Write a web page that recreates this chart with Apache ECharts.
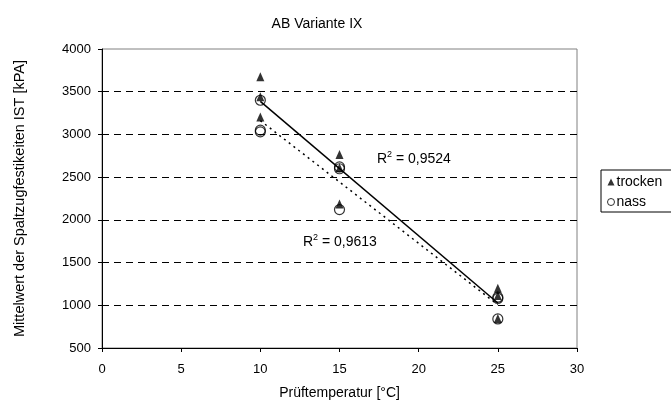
<!DOCTYPE html>
<html>
<head>
<meta charset="utf-8">
<script src="https://cdn.jsdelivr.net/npm/echarts@6/dist/echarts.min.js"></script>
<style>
html,body{margin:0;padding:0;background:#fff;}
#chart{width:671px;height:401px;}
</style>
</head>
<body>
<div id="chart"></div>
<script>
// Data
var trockenX = [10, 10, 10, 15, 15, 15, 25, 25, 25];
var trockenY = [3675, 3440, 3205, 2766, 2610, 2185, 1200, 1115, 845];
var nassX = [10, 10, 10, 15, 15, 15, 25, 25, 25];
var nassY = [3400, 3050, 3030, 2620, 2598, 2120, 1095, 1080, 840];
var xTicks = [0, 5, 10, 15, 20, 25, 30];
var yTicks = [500, 1000, 1500, 2000, 2500, 3000, 3500, 4000];
var r2Labels = ['0,9524', '0,9613'];

function pairs(xs, ys) { return xs.map(function (x, i) { return [x, ys[i]]; }); }
function fit(xs, ys) {
  var n = xs.length, mx = 0, my = 0;
  for (var i = 0; i < n; i++) { mx += xs[i]; my += ys[i]; }
  mx /= n; my /= n;
  var sxx = 0, sxy = 0;
  for (var j = 0; j < n; j++) { sxx += (xs[j] - mx) * (xs[j] - mx); sxy += (xs[j] - mx) * (ys[j] - my); }
  var b = sxy / sxx, a = my - b * mx;
  var x0 = Math.min.apply(null, xs), x1 = Math.max.apply(null, xs);
  return [[x0, a + b * x0], [x1, a + b * x1]];
}

var chart = echarts.init(document.getElementById('chart'), null, {renderer: 'canvas'});
var font = 'Liberation Sans, Arial, sans-serif';
var richR2 = {
  t: {fontSize: 14, fontFamily: font, fill: '#000', verticalAlign: 'bottom'},
  s: {fontSize: 9, fontFamily: font, fill: '#000', verticalAlign: 'top', padding: [0, 0, 7, 0]}
};
chart.setOption({
  animation: false,
  textStyle: {fontFamily: font},
  title: {
    text: 'AB Variante IX', left: 312, top: 12, textAlign: 'center',
    textStyle: {fontSize: 14, fontWeight: 'normal', color: '#000', fontFamily: font}
  },
  grid: {left: 102, right: 94, top: 49, bottom: 53, show: true, borderColor: '#808080', borderWidth: 1,
    backgroundColor: 'transparent', containLabel: false, outerBoundsMode: 'none'},
  legend: {
    orient: 'vertical', left: 601, top: 170,
    padding: [5, 10, 3, 6], itemGap: 6, itemWidth: 7, itemHeight: 7,
    borderColor: '#000', borderWidth: 1, backgroundColor: '#fff', borderRadius: 0,
    textStyle: {fontSize: 14, color: '#000', fontFamily: font, padding: [0, 0, 0, -3]},
    data: [
      {name: 'trocken', icon: 'triangle', itemStyle: {color: '#000', borderWidth: 0}},
      {name: 'nass', icon: 'circle', itemStyle: {color: '#fff', borderColor: '#000', borderWidth: 1}}
    ]
  },
  xAxis: {
    type: 'value', min: 0, max: 30, interval: 5,
    name: 'Prüftemperatur [°C]', nameLocation: 'middle', nameGap: 38,
    nameTextStyle: {fontSize: 14, color: '#000', fontFamily: font},
    axisLine: {show: true, onZero: false, lineStyle: {color: '#000', width: 1}},
    axisTick: {show: true, length: 4, lineStyle: {color: '#000'}},
    axisLabel: {color: '#000', fontSize: 13, margin: 15, fontFamily: font,
      formatter: function (v) { return xTicks.indexOf(v) >= 0 ? String(v) : ''; }},
    splitLine: {show: false}
  },
  yAxis: {
    type: 'value', min: 500, max: 4000, interval: 500,
    name: 'Mittelwert der Spaltzugfestikeiten IST [kPA]', nameLocation: 'middle', nameGap: 75,
    nameTextStyle: {fontSize: 14.5, color: '#000', fontFamily: font},
    axisLine: {show: true, onZero: false, lineStyle: {color: '#000', width: 1}},
    axisTick: {show: true, length: 4, lineStyle: {color: '#000'}},
    axisLabel: {color: '#000', fontSize: 13, margin: 11, fontFamily: font,
      formatter: function (v) { return yTicks.indexOf(v) >= 0 ? String(v) : ''; }},
    splitLine: {show: true, showMinLine: false, showMaxLine: false, lineStyle: {color: '#000', width: 1, type: [7, 5]}}
  },
  series: [
    {
      name: 'nass-trend', type: 'line', data: fit(nassX, nassY), symbol: 'none', z: 3,
      lineStyle: {color: '#000', width: 1.5, type: [2, 4]}, silent: true
    },
    {
      name: 'trocken-trend', type: 'line', data: fit(trockenX, trockenY), symbol: 'none', z: 3,
      lineStyle: {color: '#000', width: 1.5, type: 'solid'}, silent: true
    },
    {
      name: 'nass', type: 'scatter', data: pairs(nassX, nassY), symbol: 'circle', symbolSize: 10, z: 4,
      itemStyle: {color: 'rgba(255,255,255,0)', borderColor: '#000', borderWidth: 1.2}
    },
    {
      name: 'trocken', type: 'scatter', data: pairs(trockenX, trockenY), symbol: 'triangle', symbolSize: [8, 9], z: 5,
      itemStyle: {color: '#000'}
    }
  ],
  graphic: [
    {type: 'text', left: 377, top: 150, z: 10, style: {text: '{t|R}{s|2}{t| = ' + r2Labels[0] + '}', rich: richR2}},
    {type: 'text', left: 303, top: 233, z: 10, style: {text: '{t|R}{s|2}{t| = ' + r2Labels[1] + '}', rich: richR2}}
  ]
});
</script>
</body>
</html>
